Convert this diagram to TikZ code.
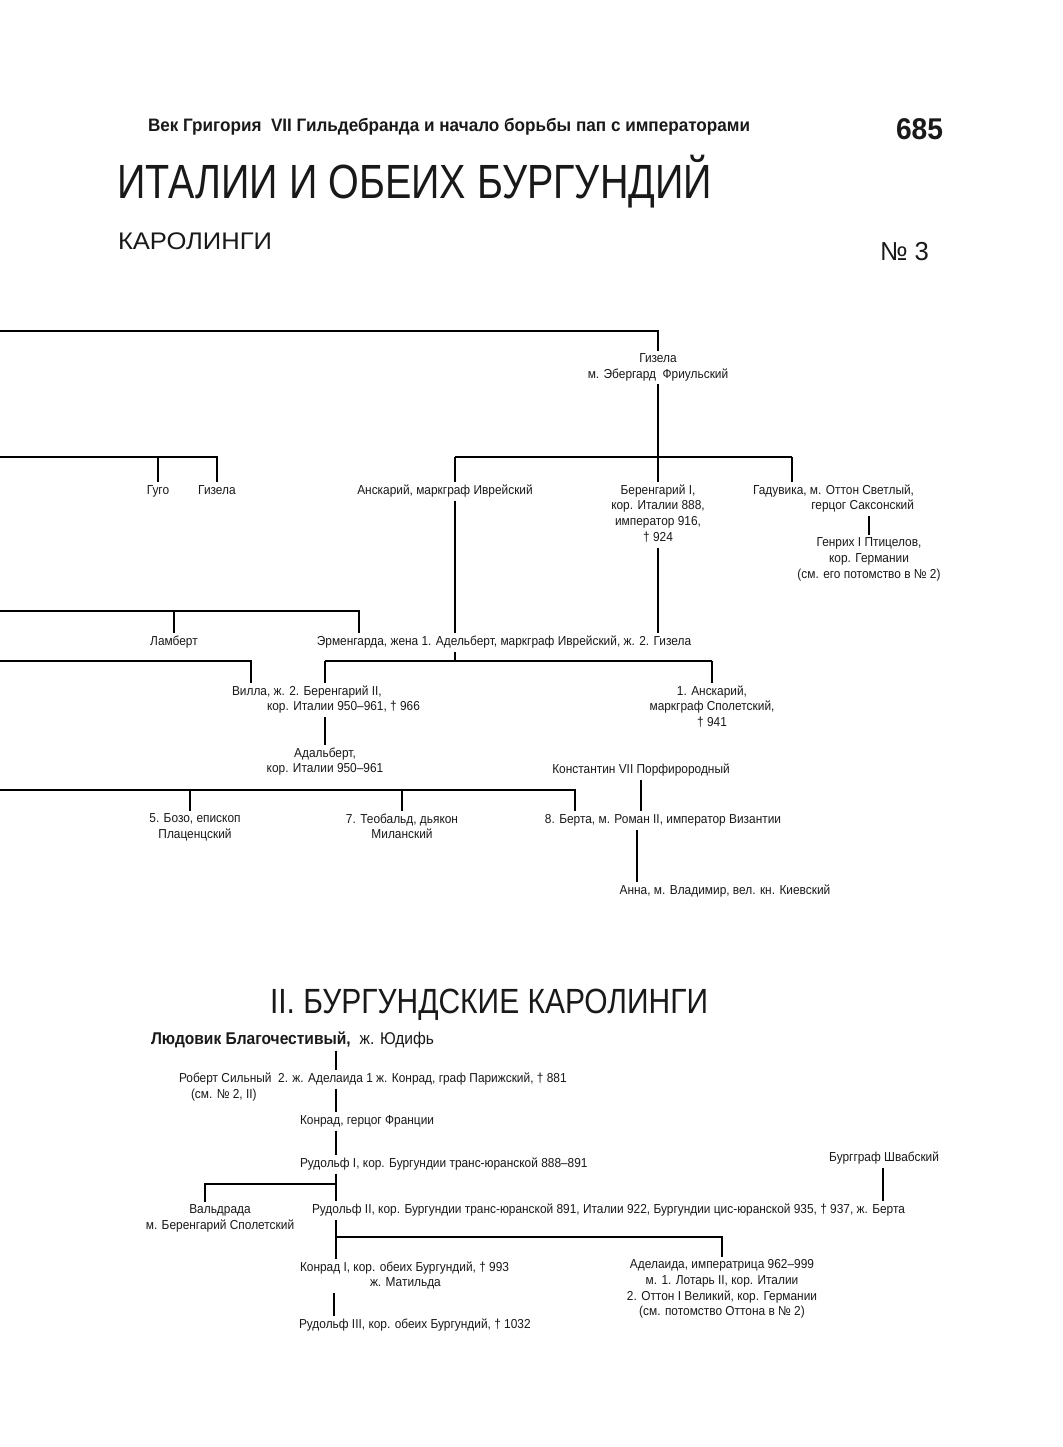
\documentclass[tikz,border=0pt]{standalone}
\usepackage{fontspec}
\setmainfont{Liberation Sans}[FakeStretch=0.915]
\usepackage{graphicx}
\usetikzlibrary{calc}
\newsavebox\fitbox
\newcommand\fitw[2]{\sbox\fitbox{#2}\pgfmathsetmacro\fitsx{#1/\the\wd\fitbox}\scalebox{\fitsx}[1]{\usebox\fitbox}}
\begin{document}
\begin{tikzpicture}[x=1pt,y=-1pt,
  ln/.style={line width=1.1pt, black},
  t/.style={inner sep=0pt, outer sep=3pt, align=center, anchor=north, text=black!90,
    font=\fontsize{13}{15.8}\selectfont,
    execute at begin node={\rule{0pt}{10pt}},
    execute at end node={\rule[-3pt]{0pt}{3pt}}},
  hd/.style={inner sep=0pt, outer sep=0pt, anchor=base west, text=black!90}]
\fill[white] (0,0) rectangle (1062,1447);
\useasboundingbox (0,0) rectangle (1062,1447);

% ---------- headings ----------
\node[hd] (hdr) at (148,132) {\fitw{602}{\fontsize{18}{20}\selectfont\bfseries Век Григория~~VII Гильдебранда и начало борьбы пап с императорами}};
\node[hd, anchor=base east] (pg) at (943,140) {\fitw{47}{\fontsize{30}{31}\selectfont\bfseries 685}};
\node[hd] (ttl) at (117,199) {\fitw{595}{\fontsize{48}{50}\selectfont ИТАЛИИ И ОБЕИХ БУРГУНДИЙ}};
\node[hd] (kar) at (118,250) {\fitw{154}{\fontsize{24}{26}\selectfont КАРОЛИНГИ}};
\node[hd, anchor=base east] (no3) at (929,261) {\fitw{49}{\fontsize{26}{28}\selectfont № 3}};

% ---------- upper tree: nodes ----------
\node[t] (gizela) at (658,350.5) {Гизела\\м. Эбергард~~Фриульский};
\node[t] (beren1) at (658,481.5) {Беренгарий I,\\кор. Италии 888,\\император 916,\\† 924};
\node[t] (ansk) at (445,481.5) {Анскарий, маркграф Иврейский};
\node[t] (hugo) at (158,481.5) {Гуго};
\node[t] (gizela2) at (217,481.5) {Гизела};
\node[t, anchor=north east, align=right] (hadu) at (917,481.5) {Гадувика, м. Оттон Светлый,\\герцог Саксонский};
\node[t] (henry) at (869,534.5) {Генрих I Птицелов,\\кор. Германии\\(см. его потомство в № 2)};
\node[t] (lambert) at (174,632.5) {Ламберт};
\node[t] (erm) at (504,632.5) {Эрменгарда, жена 1. Адельберт, маркграф Иврейский, ж. 2. Гизела};
\node[t, anchor=north west, align=left] (villa) at (229,682.5) {Вилла, ж. 2. Беренгарий II,\\\hspace*{35pt}кор. Италии 950–961, † 966};
\node[t] (anskar1) at (712,682.5) {1. Анскарий,\\маркграф Сполетский,\\† 941};
\node[t] (adalb) at (325,744.5) {Адальберт,\\кор. Италии 950–961};
\node[t] (konst) at (641,760.5) {Константин VII Порфирородный};
\node[t] (bozo) at (195,810.5) {5. Бозо, епископ\\Плаценцский};
\node[t] (teob) at (402,810.5) {7. Теобальд, дьякон\\Миланский};
\node[t] (berta8) at (663,810.5) {8. Берта, м. Роман II, император Византии};
\node[t] (anna) at (725,881.5) {Анна, м. Владимир, вел. кн. Киевский};

% ---------- upper tree: coordinates ----------
\coordinate (L1) at (0,331);
\coordinate (L2) at (0,457);
\coordinate (J2a) at (455,457);
\coordinate (J2b) at (792,457);
\coordinate (L3) at (0,611);
\coordinate (J3) at (359,611);
\coordinate (L4) at (0,661);
\coordinate (J4l) at (251,661);
\coordinate (J4a) at (325,661);
\coordinate (J4m) at (455,661);
\coordinate (J4b) at (712,661);
\coordinate (L5) at (0,790);
\coordinate (J5a) at (190,790);
\coordinate (J5b) at (402,790);
\coordinate (J5c) at (575,790);
\coordinate (c637) at (637,0);

% ---------- upper tree: connectors ----------
\draw[ln] (L1) -| (gizela.north);
\draw[ln] (gizela.south) -- (beren1.north);
\draw[ln] (J2a) -- (J2b);
\draw[ln] (J2a) -- (J2a |- ansk.north);
\draw[ln] (J2b) -- (J2b |- hadu.north);
\draw[ln] (L2) -| (gizela2.north);
\draw[ln] (hugo.north |- L2) -- (hugo.north);
\draw[ln] (henry.north |- hadu.south) -- (henry.north);
\draw[ln] (J2a |- ansk.south) -- (J2a |- erm.north);
\draw[ln] (beren1.south) -- (beren1.south |- erm.north);
\draw[ln] (L3) -- (J3) -- (J3 |- erm.north);
\draw[ln] (lambert.north |- L3) -- (lambert.north);
\draw[ln] (J4m |- erm.south) -- (J4m);
\draw[ln] (J4a) -- (J4b);
\draw[ln] (J4a) -- (J4a |- villa.north);
\draw[ln] (J4b) -- (anskar1.north);
\draw[ln] (L4) -- (J4l) -- (J4l |- villa.north);
\draw[ln] (adalb.north |- villa.south) -- (adalb.north);
\draw[ln] (L5) -- (J5c) -- (J5c |- berta8.north);
\draw[ln] (J5a) -- (J5a |- bozo.north);
\draw[ln] (J5b) -- (teob.north);
\draw[ln] (konst.south) -- (konst.south |- berta8.north);
\draw[ln] (c637 |- berta8.south) -- (c637 |- anna.north);

% ---------- section II ----------
\node[hd] (t2) at (270,1013) {\fitw{438}{\fontsize{35}{36}\selectfont II. БУРГУНДСКИЕ КАРОЛИНГИ}};
\node[t, anchor=base west, font=\fontsize{17}{18}\selectfont] (ludo) at (148,1044) {\textbf{Людовик Благочестивый,}\hspace{9pt}ж. Юдифь};
\node[t, anchor=north west] (robert) at (176,1069.5) {Роберт Сильный~~2. ж. Аделаида 1 ж. Конрад, граф Парижский, † 881};
\node[t, anchor=north west] (robnote) at (188,1085.5) {(см. № 2, II)};
\node[t, anchor=north west] (konradF) at (297,1111.5) {Конрад, герцог Франции};
\node[t, anchor=north west] (rud1) at (297,1154.5) {Рудольф I, кор. Бургундии транс-юранской 888–891};
\node[t, anchor=north east] (burg) at (942,1148.5) {Бургграф Швабский};
\node[t] (wald) at (220,1201.5) {Вальдрада\\м. Беренгарий Сполетский};
\node[t, anchor=north west] (rud2) at (309,1200.5) {Рудольф II, кор. Бургундии транс-юранской 891, Италии 922, Бургундии цис-юранской 935, † 937, ж. Берта};
\node[t, anchor=north west, align=left] (konrad1) at (297,1258.5) {Конрад I, кор. обеих Бургундий, † 993\\\hspace*{70pt}ж. Матильда};
\node[t] (adel) at (722,1256.5) {Аделаида, императрица 962–999\\м. 1. Лотарь II, кор. Италии\\2. Оттон I Великий, кор. Германии\\(см. потомство Оттона в № 2)};
\node[t, anchor=north west] (rud3) at (296,1315.5) {Рудольф III, кор. обеих Бургундий, † 1032};

\coordinate (c336) at (336,0);
\coordinate (c334) at (334,0);
\coordinate (c883) at (883,0);
\coordinate (J6) at (336,1184);
\coordinate (J6w) at (205,1184);
\coordinate (J7) at (336,1237);
\coordinate (J7e) at (722,1237);

\draw[ln] (c336 |- ludo.south) -- (c336 |- robert.north);
\draw[ln] (c336 |- robert.south) -- (c336 |- konradF.north);
\draw[ln] (c336 |- konradF.south) -- (c336 |- rud1.north);
\draw[ln] (c336 |- rud1.south) -- (c336 |- rud2.north);
\draw[ln] (J6) -- (J6w) -- (J6w |- wald.north);
\draw[ln] (c883 |- burg.south) -- (c883 |- rud2.north);
\draw[ln] (c336 |- rud2.south) -- (c336 |- konrad1.north);
\draw[ln] (J7) -- (J7e) -- (adel.north);
\draw[ln] (c334 |- konrad1.south) -- (c334 |- rud3.north);
\end{tikzpicture}
\end{document}
